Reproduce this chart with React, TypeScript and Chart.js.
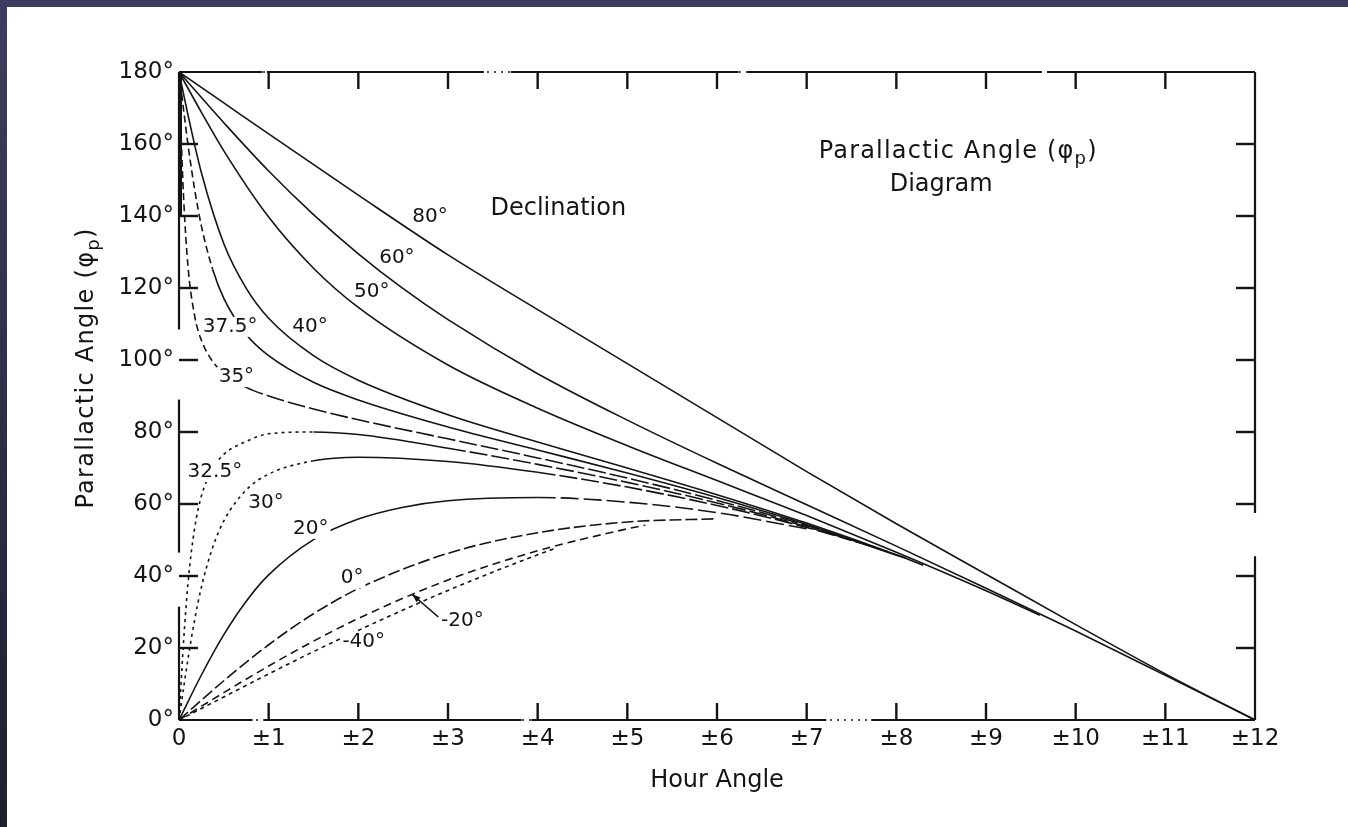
import React, { useEffect, useRef } from "react";
import { Chart, registerables } from "chart.js";

Chart.register(...registerables);

// ---------- tick labels ----------
const X_TICK_LABELS = ["0", "±1", "±2", "±3", "±4", "±5", "±6", "±7", "±8", "±9", "±10", "±11", "±12"];
const Y_TICK_LABELS = ["0°", "20°", "40°", "60°", "80°", "100°", "120°", "140°", "160°", "180°"];

// ---------- curves: hour angle (h) and parallactic angle (deg) per declination ----------
const H_80 = [0, 0.5, 1, 2, 3, 4, 5, 6, 7, 8, 9, 10, 11, 12];
const Q_80 = [180, 171.4, 162.8, 145.8, 129.2, 114, 99, 84, 69, 54.5, 40.5, 26.5, 12.8, 0];

const H_60 = [0, 0.25, 0.5, 1, 1.5, 2, 2.5, 3, 4, 5, 6, 7, 8, 9, 10, 11, 12];
const Q_60 = [180, 172.9, 165.9, 152.5, 140.4, 129.5, 119.8, 111.2, 96.2, 83.3, 71.3, 59.8, 48.3, 36.6, 24.7, 12.4, 0];

const H_50 = [0, 0.25, 0.5, 1, 1.5, 2, 3, 4, 5, 6, 7, 8, 9, 9.6];
const Q_50 = [180, 168.8, 158.1, 139.7, 125.5, 114.6, 98.6, 86.6, 76.2, 66.5, 56.8, 46.6, 35.9, 29.1];

const H_40 = [0, 0.1, 0.25, 0.5, 0.75, 1, 1.5, 2, 3, 4, 5, 6, 7, 8, 8.3];
const Q_40 = [180, 168.1, 152, 132.3, 119.9, 111.6, 101.2, 94.4, 84.8, 77.2, 70, 62.6, 54.7, 45.9, 43];

const H_375 = [0, 0.05, 0.1, 0.175, 0.25, 0.375, 0.5, 0.75, 1, 1.5, 2, 3, 4, 5, 6, 7, 8, 8.1];
const Q_375 = [180, 169.7, 159.9, 147.3, 137.2, 125.2, 117.1, 107.1, 101.2, 93.8, 88.9, 81.4, 75, 68.6, 61.8, 54.3, 45.8, 45];

const H_35 = [0, 0.02, 0.05, 0.1, 0.175, 0.25, 0.375, 0.5, 0.75, 1, 1.5, 2, 3, 4, 5, 6, 7, 7.9];
const Q_35 = [180, 164.8, 145.8, 126.1, 112.2, 105.5, 99.6, 96.3, 92.4, 90, 86.4, 83.4, 78.1, 72.8, 67.2, 61, 54, 46.8];

const H_325 = [0, 0.02, 0.05, 0.1, 0.175, 0.25, 0.375, 0.5, 0.75, 1, 1.5, 2, 3, 4, 5, 6, 7, 7.7];
const Q_325 = [0, 8.9, 21.4, 37.9, 53.4, 62.2, 69.8, 73.8, 77.4, 79.5, 80, 79.3, 75.5, 71, 66, 60.3, 53.7, 48.4];

const H_30 = [0, 0.05, 0.1, 0.175, 0.25, 0.375, 0.5, 0.75, 1, 1.5, 2, 3, 4, 5, 6, 7, 7.5];
const Q_30 = [0, 8.7, 16.9, 27.9, 36.9, 47.9, 55.3, 63.9, 68.3, 72, 73, 71.8, 68.8, 64.7, 59.6, 53.5, 49.9];

const H_20 = [0, 0.25, 0.5, 0.75, 1, 1.5, 2, 2.5, 3, 4, 5, 6, 7];
const Q_20 = [0, 12.5, 23.7, 33, 40.3, 50.1, 55.8, 59.1, 60.9, 61.8, 60.5, 57.6, 53.1];

const H_0 = [0, 0.5, 1, 1.5, 2, 3, 4, 5, 6];
const Q_0 = [0, 10.9, 20.9, 29.5, 36.5, 46.3, 52, 55, 55.9];

const H_M20 = [0, 0.5, 1, 1.5, 2, 3, 4, 5, 5.2];
const Q_M20 = [0, 7.6, 15, 21.9, 28.2, 38.9, 47, 53.1, 54.1];

const H_M40 = [0, 0.5, 1, 1.5, 2, 3, 4, 4.2];
const Q_M40 = [0, 6.4, 12.8, 19, 24.9, 36, 45.9, 47.7];

const DECLINATIONS = ["80°", "60°", "50°", "40°", "37.5°", "35°", "32.5°", "30°", "20°", "0°", "-20°", "-40°"];
const HOURS = [H_80, H_60, H_50, H_40, H_375, H_35, H_325, H_30, H_20, H_0, H_M20, H_M40];
const ANGLES = [Q_80, Q_60, Q_50, Q_40, Q_375, Q_35, Q_325, Q_30, Q_20, Q_0, Q_M20, Q_M40];

// ---------- styles ----------
const INK = "#141414";
const FONT = "'DejaVu Sans', 'Liberation Sans', sans-serif";

// dash pattern changes along each curve: [from hour angle, dash]
const DASH_STYLE: Record<string, Array<[number, number[]]>> = {
  "37.5°": [[0, [7, 4]], [0.3, []]],
  "35°": [[0, [7, 4]], [0.6, [18, 4]]],
  "32.5°": [[0, [3, 4]], [1.2, []], [2.2, [18, 4]]],
  "30°": [[0, [3, 4]], [1.3, []], [3.5, [18, 4]]],
  "20°": [[0, []], [3.3, [18, 5]]],
  "0°": [[0, [12, 4]]],
  "-20°": [[0, [8, 5]]],
  "-40°": [[0, [4, 4]]],
};

function dashFor(label: string, h: number): number[] {
  const rules = DASH_STYLE[label];
  if (!rules) return [];
  let d: number[] = [];
  for (const [from, dash] of rules) if (h >= from - 1e-9) d = dash;
  return d;
}

// curve labels placed in data space (hour angle, angle)
const CURVE_LABELS: Array<[string, number, number]> = [
  ["80°", 2.8, 139.7],
  ["60°", 2.43, 128.3],
  ["50°", 2.15, 118.9],
  ["40°", 1.46, 109.2],
  ["37.5°", 0.57, 109.2],
  ["35°", 0.64, 95.3],
  ["32.5°", 0.4, 68.9],
  ["30°", 0.97, 60.3],
  ["20°", 1.47, 53.1],
  ["0°", 1.93, 39.4],
  ["-20°", 3.16, 27.5],
  ["-40°", 2.06, 21.7],
];

// frame pieces that are drawn solid (the scan has breaks, dotted on top/bottom)
const TOP_RUNS: Array<[number, number]> = [[0, 0.93], [0.98, 3.4], [3.7, 6.24], [6.34, 9.62], [9.68, 12]];
const BOTTOM_RUNS: Array<[number, number]> = [[0, 0.82], [0.95, 3.82], [3.93, 7.22], [7.72, 12]];
const LEFT_RUNS: Array<[number, number]> = [[0, 31.5], [46.5, 89], [108.5, 180]];
const RIGHT_RUNS: Array<[number, number]> = [[0, 45.5], [57.5, 180]];

const backdrop = {
  id: "backdrop",
  beforeDraw(chart: any) {
    const { ctx, width, height } = chart;
    ctx.save();
    ctx.fillStyle = "#ffffff";
    ctx.fillRect(0, 0, width, height);
    ctx.fillStyle = "#3e3d60";
    ctx.fillRect(0, 0, width, 7);
    const g = ctx.createLinearGradient(0, 0, 0, height);
    g.addColorStop(0, "#3e3d60");
    g.addColorStop(1, "#1f1f2e");
    ctx.fillStyle = g;
    ctx.fillRect(0, 0, 7, height);
    ctx.restore();
  },
};

const frame = {
  id: "frame",
  afterDatasetsDraw(chart: any) {
    const { ctx } = chart;
    const xs = chart.scales.x;
    const ys = chart.scales.y;
    const L = xs.getPixelForValue(0);
    const R = xs.getPixelForValue(12);
    const T = ys.getPixelForValue(180);
    const B = ys.getPixelForValue(0);
    ctx.save();
    ctx.strokeStyle = INK;
    ctx.lineCap = "butt";
    const seg = (x1: number, y1: number, x2: number, y2: number) => {
      ctx.beginPath();
      ctx.moveTo(x1, y1);
      ctx.lineTo(x2, y2);
      ctx.stroke();
    };
    // faint dotted pieces across the breaks of top and bottom lines
    ctx.lineWidth = 1.6;
    ctx.setLineDash([2, 5]);
    seg(L, T, R, T);
    seg(L, B, R, B);
    ctx.setLineDash([]);
    ctx.lineWidth = 2.2;
    for (const [a, b] of TOP_RUNS) seg(xs.getPixelForValue(a), T, xs.getPixelForValue(b), T);
    for (const [a, b] of BOTTOM_RUNS) seg(xs.getPixelForValue(a), B, xs.getPixelForValue(b), B);
    for (const [a, b] of LEFT_RUNS) seg(L, ys.getPixelForValue(a), L, ys.getPixelForValue(b));
    for (const [a, b] of RIGHT_RUNS) seg(R, ys.getPixelForValue(a), R, ys.getPixelForValue(b));
    // thick top of left axis
    ctx.lineWidth = 4;
    seg(L + 1, T, L + 1, ys.getPixelForValue(140));
    // inner ticks
    ctx.lineWidth = 2.4;
    const TL = 17;
    for (let h = 1; h <= 11; h++) {
      const x = xs.getPixelForValue(h);
      seg(x, T, x, T + TL);
      seg(x, B, x, B - TL);
    }
    for (let v = 20; v <= 160; v += 20) {
      const y = ys.getPixelForValue(v);
      seg(L, y, L + TL + 2, y);
      seg(R, y, R - TL - 2, y);
    }
    ctx.restore();
  },
};

function drawPhiText(ctx: any, main: string, cx: number, cy: number, size: number, spacing: number) {
  ctx.font = `${size}px ${FONT}`;
  ctx.letterSpacing = `${spacing}px`;
  const w1 = ctx.measureText(main).width;
  ctx.font = `${Math.round(size * 0.75)}px ${FONT}`;
  const w2 = ctx.measureText("p").width;
  ctx.font = `${size}px ${FONT}`;
  const w3 = ctx.measureText(")").width;
  const total = w1 + w2 + w3;
  let x = cx - total / 2;
  ctx.textAlign = "left";
  ctx.textBaseline = "middle";
  ctx.fillText(main, x, cy);
  x += w1;
  ctx.font = `${Math.round(size * 0.75)}px ${FONT}`;
  ctx.fillText("p", x, cy + size * 0.3);
  x += w2;
  ctx.font = `${size}px ${FONT}`;
  ctx.fillText(")", x, cy);
  ctx.letterSpacing = "0px";
}

const annotations = {
  id: "annotations",
  afterDraw(chart: any) {
    const { ctx } = chart;
    const xs = chart.scales.x;
    const ys = chart.scales.y;
    ctx.save();
    ctx.fillStyle = INK;
    ctx.strokeStyle = INK;

    // curve labels
    ctx.font = `20px ${FONT}`;
    ctx.textAlign = "center";
    ctx.textBaseline = "middle";
    for (const [text, h, v] of CURVE_LABELS) {
      const x = xs.getPixelForValue(h);
      const y = ys.getPixelForValue(v);
      const w = ctx.measureText(text).width;
      ctx.fillStyle = "#ffffff";
      ctx.fillRect(x - w / 2 - 2, y - 10, w + 4, 20);
      ctx.fillStyle = INK;
      ctx.fillText(text, x, y);
    }

    // arrow from -20° label to its curve
    const tipX = xs.getPixelForValue(2.6);
    const tipY = ys.getPixelForValue(34.9);
    const tailX = xs.getPixelForValue(3.16) - 24;
    const tailY = ys.getPixelForValue(27.5) - 4;
    ctx.lineWidth = 1.6;
    ctx.beginPath();
    ctx.moveTo(tailX, tailY);
    ctx.lineTo(tipX, tipY);
    ctx.stroke();
    const ang = Math.atan2(tipY - tailY, tipX - tailX);
    ctx.beginPath();
    ctx.moveTo(tipX, tipY);
    ctx.lineTo(tipX - 9 * Math.cos(ang - 0.35), tipY - 9 * Math.sin(ang - 0.35));
    ctx.lineTo(tipX - 9 * Math.cos(ang + 0.35), tipY - 9 * Math.sin(ang + 0.35));
    ctx.closePath();
    ctx.fill();

    // "Declination"
    ctx.font = `24px ${FONT}`;
    ctx.textAlign = "center";
    ctx.fillText("Declination", xs.getPixelForValue(4.23), ys.getPixelForValue(141.9));

    // diagram title
    drawPhiText(ctx, "Parallactic Angle (φ", xs.getPixelForValue(8.69), ys.getPixelForValue(157.8), 24, 1.2);
    ctx.font = `24px ${FONT}`;
    ctx.textAlign = "center";
    ctx.fillText("Diagram", xs.getPixelForValue(8.5), ys.getPixelForValue(148.6));

    // y axis title
    ctx.save();
    ctx.translate(xs.getPixelForValue(0) - 92, ys.getPixelForValue(97.8));
    ctx.rotate(-Math.PI / 2);
    drawPhiText(ctx, "Parallactic Angle (φ", 0, 0, 24, 1.3);
    ctx.restore();

    ctx.restore();
  },
};

export default function App() {
  const ref = useRef<HTMLCanvasElement>(null);

  useEffect(() => {
    document.body.style.margin = "0";
    const canvas = ref.current;
    if (!canvas) return;

    const datasets = DECLINATIONS.map((label, i) => ({
      label,
      data: HOURS[i].map((h, j) => ({ x: h, y: ANGLES[i][j] })),
      borderColor: INK,
      borderWidth: 1.6,
      pointRadius: 0,
      fill: false,
      cubicInterpolationMode: "monotone" as const,
      segment: {
        borderDash: (ctx: any) => dashFor(label, ctx.p0.parsed.x),
      },
    }));

    const chart = new Chart(canvas, {
      type: "line",
      data: { datasets },
      options: {
        responsive: false,
        maintainAspectRatio: false,
        animation: false,
        layout: { padding: { left: 0, right: 93, top: 72, bottom: 0 } },
        plugins: {
          legend: { display: false },
          tooltip: { enabled: false },
          title: { display: false },
        },
        scales: {
          x: {
            type: "linear",
            min: 0,
            max: 12,
            grid: { display: false, drawTicks: false },
            border: { display: false },
            ticks: {
              stepSize: 1,
              autoSkip: false,
              maxRotation: 0,
              padding: 5,
              color: INK,
              font: { family: FONT, size: 23 },
              callback: (v: any) => X_TICK_LABELS[Math.round(Number(v))] ?? "",
            },
            title: {
              display: true,
              text: "Hour Angle",
              color: INK,
              font: { family: FONT, size: 24 },
              padding: { top: 0, bottom: 32 },
            },
            afterFit: (s: any) => {
              s.height = 107;
            },
          },
          y: {
            type: "linear",
            min: 0,
            max: 180,
            grid: { display: false, drawTicks: false },
            border: { display: false },
            ticks: {
              stepSize: 20,
              padding: 5,
              color: INK,
              font: { family: FONT, size: 23 },
              callback: (v: any) => Y_TICK_LABELS[Math.round(Number(v) / 20)] ?? "",
            },
            afterFit: (s: any) => {
              s.width = 179;
            },
          },
        },
      },
      plugins: [backdrop, frame, annotations],
    });

    return () => chart.destroy();
  }, []);

  return (
    <div style={{ position: "fixed", left: 0, top: 0, width: 1348, height: 827, background: "#fff" }}>
      <canvas ref={ref} width={1348} height={827} />
    </div>
  );
}
